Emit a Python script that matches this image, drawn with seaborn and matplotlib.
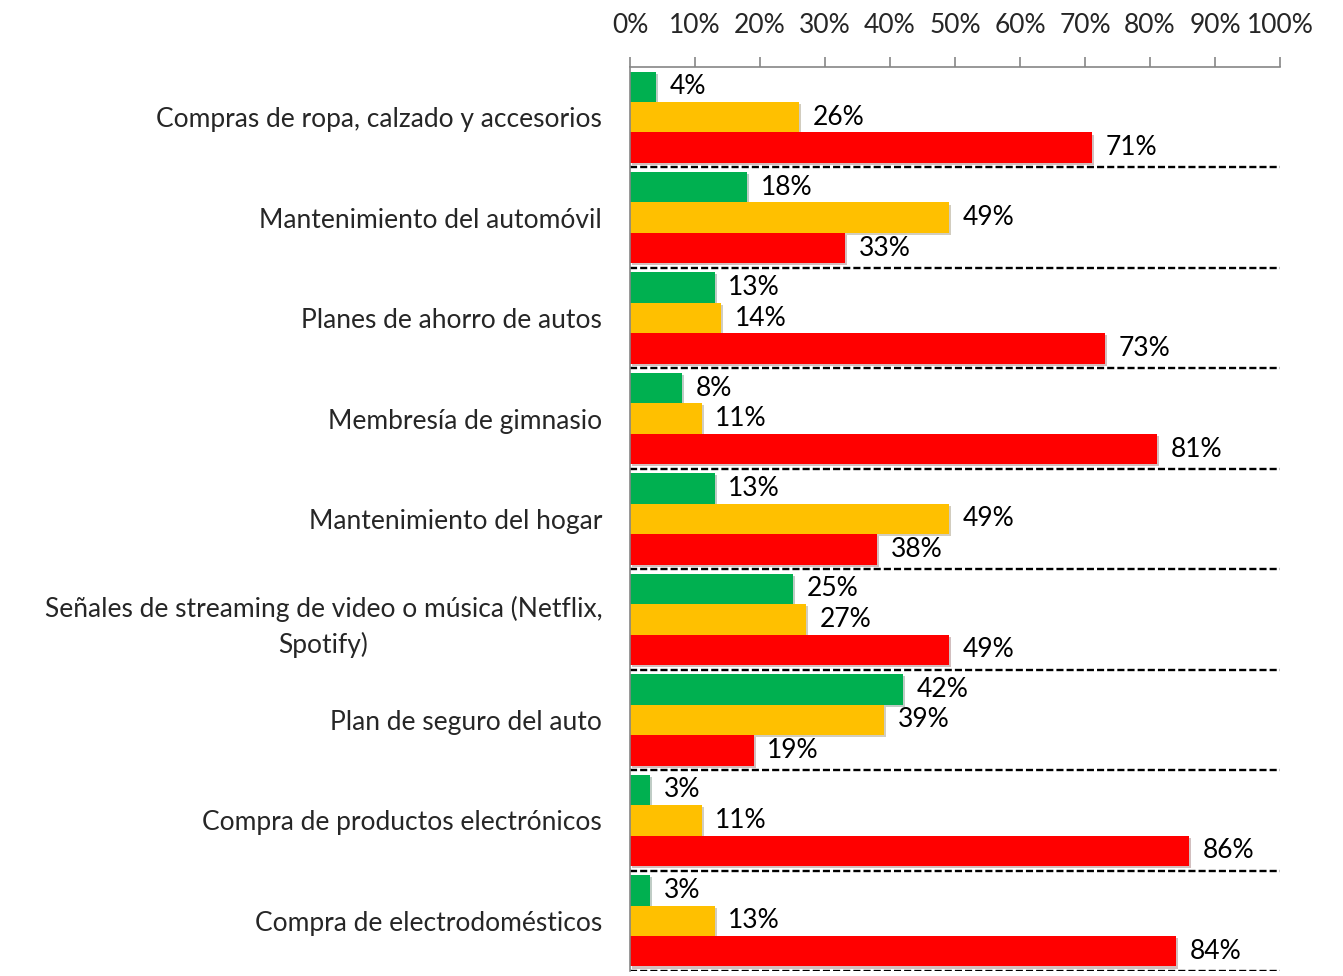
import matplotlib
matplotlib.use("Agg")
import matplotlib.pyplot as plt
import matplotlib.patheffects as pe
import seaborn as sns
import pandas as pd

categories = [
    "Compras de ropa, calzado y accesorios",
    "Mantenimiento del automóvil",
    "Planes de ahorro de autos",
    "Membresía de gimnasio",
    "Mantenimiento del hogar",
    "Señales de streaming de video o música (Netflix,\nSpotify)",
    "Plan de seguro del auto",
    "Compra de productos electrónicos",
    "Compra de electrodomésticos",
]
series_names = ["Verde", "Amarillo", "Rojo"]
green_vals = [4, 18, 13, 8, 13, 25, 42, 3, 3]
yellow_vals = [26, 49, 14, 11, 49, 27, 39, 11, 13]
red_vals = [71, 33, 73, 81, 38, 49, 19, 86, 84]
colors = ["#00B050", "#FFC000", "#FF0000"]
xticks = [0, 10, 20, 30, 40, 50, 60, 70, 80, 90, 100]
xtick_labels = [f"{t}%" for t in xticks]

rows = []
for s, vals in zip(series_names, [green_vals, yellow_vals, red_vals]):
    for c, v in zip(categories, vals):
        rows.append({"cat": c, "serie": s, "val": v})
df = pd.DataFrame(rows)

sns.set_theme(style="white")
plt.rcParams["font.family"] = ["Lato", "DejaVu Sans"]

fig = plt.figure(figsize=(13.43, 9.76), dpi=100)
ax = fig.add_axes([630 / 1343, 1 - 971 / 976, 650 / 1343, 904 / 976])

sns.barplot(data=df, y="cat", x="val", hue="serie", order=categories,
            hue_order=series_names, palette=colors, orient="h", width=0.91,
            saturation=1, legend=False, ax=ax, errorbar=None)

for cont in ax.containers:
    for p in cont.patches:
        p.set_edgecolor("none")
        p.set_path_effects([pe.SimplePatchShadow(offset=(1.5, -1.5), alpha=0.25), pe.Normal()])
    ax.bar_label(cont, labels=[f"{int(round(v))}%" for v in cont.datavalues],
                 padding=10, fontsize=19, color="black")

ax.set_xlim(0, 100)
ax.set_ylim(len(categories) - 0.5, -0.5)
ax.set_xlabel("")
ax.set_ylabel("")

ax.xaxis.tick_top()
ax.set_xticks(xticks)
ax.set_xticklabels(xtick_labels, fontsize=19)
ax.tick_params(axis="x", direction="out", length=7, width=1.2, color="#868686", pad=14)

ax.set_yticks(range(len(categories)))
ax.set_yticklabels(categories, fontsize=19, multialignment="center", linespacing=1.45)
ax.tick_params(axis="y", length=0, pad=20)
ax.set_yticks([i + 0.5 for i in range(len(categories))], minor=True)
ax.tick_params(axis="y", which="minor", direction="out", length=7, width=1.2, color="#868686")

for i in range(len(categories)):
    ax.axhline(i + 0.5, color="black", linestyle=(0, (3, 1.3)), linewidth=1.7, zorder=0.5)

for s in ["right", "bottom"]:
    ax.spines[s].set_visible(False)
for s in ["top", "left"]:
    ax.spines[s].set_color("#868686")
    ax.spines[s].set_linewidth(1.2)
ax.grid(False)

fig.savefig("out.png", dpi=100)
